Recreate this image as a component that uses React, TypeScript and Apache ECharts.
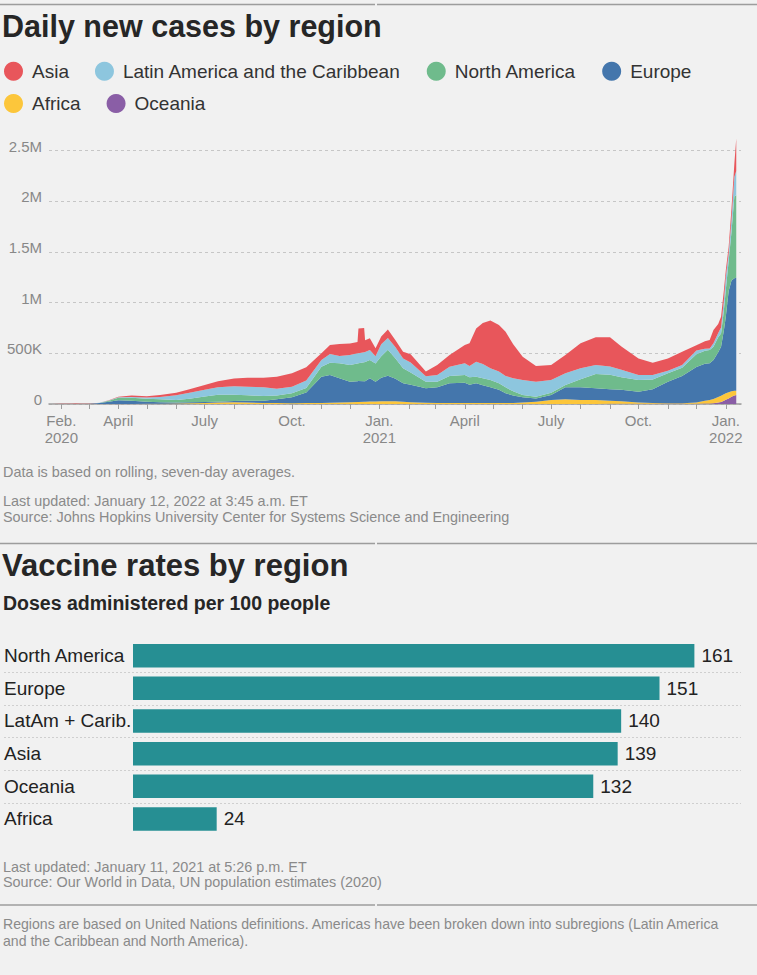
import React, { useEffect, useRef } from 'react';
import * as echarts from 'echarts';

// ---------- Daily new cases (7-day averages, thousands) ----------
const dates = [
  '2020-01-22', '2020-02-01', '2020-02-12', '2020-02-16', '2020-02-22', '2020-03-01', '2020-03-12', '2020-03-22',
  '2020-04-01', '2020-04-15', '2020-05-01', '2020-05-15', '2020-06-01', '2020-06-15', '2020-07-01', '2020-07-15',
  '2020-08-01', '2020-08-15', '2020-09-01', '2020-09-15', '2020-10-01', '2020-10-16', '2020-11-01', '2020-11-10',
  '2020-11-20', '2020-12-01', '2020-12-09', '2020-12-10', '2020-12-16', '2020-12-17', '2020-12-22', '2020-12-28',
  '2021-01-03', '2021-01-10', '2021-01-18', '2021-01-26', '2021-02-03', '2021-02-19', '2021-03-03', '2021-03-16',
  '2021-04-01', '2021-04-06', '2021-04-13', '2021-04-20', '2021-04-28', '2021-05-07', '2021-05-14', '2021-05-22',
  '2021-06-01', '2021-06-15', '2021-07-01', '2021-07-16', '2021-08-01', '2021-08-17', '2021-09-01', '2021-09-13',
  '2021-10-01', '2021-10-16', '2021-11-01', '2021-11-16', '2021-12-01', '2021-12-10', '2021-12-15', '2021-12-19',
  '2021-12-24', '2021-12-27', '2021-12-30', '2022-01-01', '2022-01-04', '2022-01-07', '2022-01-10', '2022-01-12',
];
const oceania = [
  0, 0, 0, 0, 0, 0, 0.05, 0.3,
  0.3, 0.1, 0, 0, 0, 0, 0.1, 0.3,
  0.5, 0.3, 0.1, 0.1, 0.1, 0.1, 0.1, 0.1,
  0.1, 0.1, 0.1, 0.1, 0.1, 0.1, 0.1, 0.1,
  0.1, 0.1, 0.1, 0.1, 0.1, 0.1, 0.1, 0.1,
  0.1, 0.1, 0.1, 0.1, 0.1, 0.1, 0.1, 0.1,
  0.1, 0.1, 0.2, 0.2, 0.5, 1, 1.5, 2,
  2, 2, 2, 2, 2, 4, 5, 8,
  14, 20, 32, 42, 55, 72, 85, 89,
];
const africa = [
  0, 0, 0, 0, 0, 0, 0.05, 0.5,
  0.5, 1, 2, 3, 5, 7, 10, 14,
  16, 15, 10, 9, 8, 9, 10, 12,
  14, 16, 20, 20, 22, 22, 24, 24,
  27, 28, 26, 22, 16, 12, 10, 9,
  9, 9, 9, 9, 9, 9, 10, 11,
  14, 23, 40, 46, 40, 38, 30, 25,
  13, 8, 6, 6, 13, 28, 35, 42,
  56, 62, 63, 63, 60, 53, 45, 43,
];
const europe = [
  0, 0, 0, 0, 0.1, 0.5, 10, 22,
  35, 30, 20, 15, 10, 10, 10, 9,
  14, 18, 23, 37, 58, 105, 260, 274,
  239, 204, 205, 206, 203, 203, 229, 196,
  233, 251, 224, 182, 174, 143, 154, 195,
  201, 181, 195, 176, 155, 131, 95, 74,
  52, 30, 49, 118, 124, 117, 115, 113,
  107, 135, 212, 268, 350, 365, 361, 384,
  440, 484, 635, 757, 1000, 1095, 1110, 1113,
];
const northAmerica = [
  0, 0, 0, 0, 0, 0.05, 1, 10,
  27, 31, 31, 28, 25, 35, 53, 69,
  62, 52, 46, 39, 39, 45, 98, 122,
  148, 165, 175, 176, 187, 190, 181, 180,
  210, 257, 200, 148, 120, 65, 56, 72,
  76, 73, 65, 70, 73, 65, 59, 40,
  23, 19, 23, 23, 79, 140, 141, 125,
  115, 98, 83, 82, 125, 128, 131, 132,
  150, 130, 197, 263, 300, 480, 810, 815,
];
const latinAmerica = [
  0, 0, 0, 0, 0, 0, 0.2, 1,
  3, 6, 10, 24, 46, 60, 67, 73,
  83, 85, 85, 66, 66, 72, 66, 85,
  72, 98, 100, 100, 98, 97, 98, 70,
  120, 115, 110, 98, 100, 55, 66, 92,
  115, 112, 148, 140, 115, 115, 112, 130,
  148, 148, 125, 116, 109, 90, 82, 72,
  49, 43, 26, 27, 38, 20, 17, 33,
  40, 60, 99, 131, 70, 120, 190, 240,
];
const asia = [
  0.5, 2, 3, 5, 1.5, 1.8, 2, 3,
  6.5, 17, 13, 18, 26, 33, 47, 60,
  75, 88, 96, 119, 132, 131, 66, 89,
  119, 115, 112, 243, 240, 116, 116, 80,
  75, 85, 70, 66, 80, 45, 99, 115,
  181, 225, 329, 405, 473, 460, 437, 335,
  230, 155, 148, 180, 246, 272, 289, 230,
  164, 122, 121, 131, 52, 75, 82, 131,
  90, 106, 99, 64, 65, 110, 130, 320,
];

const yTicks = [0, 500, 1000, 1500, 2000, 2500];
const yTickLabels = ['0', '500K', '1M', '1.5M', '2M', '2.5M'];
const monthTicks = [
  '2020-02-01', '2020-03-01', '2020-04-01', '2020-05-01', '2020-06-01', '2020-07-01', '2020-08-01', '2020-09-01',
  '2020-10-01', '2020-11-01', '2020-12-01', '2021-01-01', '2021-02-01', '2021-03-01', '2021-04-01', '2021-05-01',
  '2021-06-01', '2021-07-01', '2021-08-01', '2021-09-01', '2021-10-01', '2021-11-01', '2021-12-01', '2022-01-01',
];
const xLabelDates = ['2020-02-01', '2020-04-01', '2020-07-01', '2020-10-01', '2021-01-01', '2021-04-01', '2021-07-01', '2021-10-01', '2022-01-01'];
const xLabels = ['Feb.\n2020', 'April', 'July', 'Oct.', 'Jan.\n2021', 'April', 'July', 'Oct.', 'Jan.\n2022'];

// ---------- Vaccines ----------
const vaccineRegions = ['North America', 'Europe', 'LatAm + Carib.', 'Asia', 'Oceania', 'Africa'];
const vaccineDoses = [161, 151, 140, 139, 132, 24];

const FONT = "'Liberation Sans', Arial, Helvetica, sans-serif";
const toTs = (s: string) => {
  const [y, m, d] = s.split('-').map(Number);
  return Date.UTC(y, m - 1, d);
};

const seriesDefs = [
  { name: 'Oceania', values: oceania, color: '#8a5ea6' },
  { name: 'Africa', values: africa, color: '#fcc63b' },
  { name: 'Europe', values: europe, color: '#4476ac' },
  { name: 'North America', values: northAmerica, color: '#6fbb8c' },
  { name: 'Latin America and the Caribbean', values: latinAmerica, color: '#8dc6de' },
  { name: 'Asia', values: asia, color: '#e8565b' },
];

const text = (id: string, x: number, y: number, t: string, size: number, color: string, weight: any = 'normal') => ({
  type: 'text', id, x, y, silent: true,
  style: { text: t, fill: color, fontSize: size, fontWeight: weight, fontFamily: FONT, verticalAlign: 'middle', align: 'left' },
});
const rule = (id: string, x1: number, x2: number, y: number) => ({
  type: 'line', id, silent: true,
  shape: { x1, y1: y, x2, y2: y },
  style: { stroke: '#9d9d9d', lineWidth: 1.5 },
});

export default function App() {
  const ref = useRef<HTMLDivElement>(null);
  useEffect(() => {
    if (!ref.current) return;
    const chart = echarts.init(ref.current, undefined, { renderer: 'svg' });
    const labelTs = xLabelDates.map(toTs);
    const NOTE = 14.4;

    const baseGraphics: any[] = [
      rule('r1a', 0, 375, 4.5), rule('r1b', 377, 757, 4.5),
      text('title1', 2, 25.5, 'Daily new cases by region', 30.5, '#262626', 'bold'),
      text('note1', 3, 472, 'Data is based on rolling, seven-day averages.', NOTE, '#8a8a8a'),
      text('upd1', 3, 500.7, 'Last updated: January 12, 2022 at 3:45 a.m. ET', NOTE, '#8a8a8a'),
      text('src1', 3, 516.7, 'Source: Johns Hopkins University Center for Systems Science and Engineering', NOTE, '#8a8a8a'),
      rule('r2a', 0, 375, 543.5), rule('r2b', 377, 757, 543.5),
      text('title2', 2, 565.5, 'Vaccine rates by region', 31, '#262626', 'bold'),
      text('sub2', 3, 603, 'Doses administered per 100 people', 19.5, '#262626', 600),
      text('upd2', 3, 866.7, 'Last updated: January 11, 2021 at 5:26 p.m. ET', NOTE, '#8a8a8a'),
      text('src2', 3, 882.3, 'Source: Our World in Data, UN population estimates (2020)', NOTE, '#8a8a8a'),
      rule('r3a', 0, 375, 905), rule('r3b', 377, 757, 905),
      text('foot1', 3, 924.3, 'Regions are based on United Nations definitions. Americas have been broken down into subregions (Latin America', 14.1, '#8a8a8a'),
      text('foot2', 3, 940.7, 'and the Caribbean and North America).', 14.1, '#8a8a8a'),
    ];

    const legendBase = {
      icon: 'circle', itemWidth: 19, itemHeight: 19, itemGap: 26, padding: 0, left: 4,
      selectedMode: false,
      textStyle: { fontSize: 19, color: '#333', fontFamily: FONT, padding: [0, 0, 0, 4] },
    };

    const option: any = {
      animation: false,
      backgroundColor: '#f1f1f1',
      textStyle: { fontFamily: FONT },
      legend: [
        { ...legendBase, top: 61.7, data: ['Asia', 'Latin America and the Caribbean', 'North America', 'Europe'] },
        { ...legendBase, top: 94, data: ['Africa', 'Oceania'] },
      ],
      grid: [
        { left: 49, right: 16, top: 150.7, height: 253.3 },
        { left: 133, top: 639.3, height: 196, width: 610.2 },
      ],
      xAxis: [
        {
          type: 'value', gridIndex: 0,
          min: toTs('2020-01-19'), max: toTs('2022-01-17'),
          splitLine: { show: false },
          axisLine: { show: true, lineStyle: { color: '#9d9d9d', width: 1.5 } },
          axisTick: { show: true, length: 5, lineStyle: { color: '#9d9d9d', width: 1 }, customValues: monthTicks.map(toTs) },
          axisLabel: {
            customValues: labelTs,
            fontSize: 15, color: '#888', fontFamily: FONT, margin: 8, lineHeight: 17,
            hideOverlap: false,
            formatter: (v: number) => {
              const i = labelTs.findIndex((t) => Math.abs(t - v) < 3600000 * 12);
              return i >= 0 ? xLabels[i] : '';
            },
          },
        },
        { type: 'value', gridIndex: 1, min: 0, max: 175, show: false },
      ],
      yAxis: [
        {
          type: 'value', gridIndex: 0, min: 0, max: 2500, interval: 500,
          axisLine: { show: false }, axisTick: { show: false },
          splitLine: { show: true, lineStyle: { color: '#c6c6c6', type: [3, 3], width: 1 } },
          axisLabel: {
            fontSize: 15, color: '#888', fontFamily: FONT, margin: 7,
            verticalAlign: 'bottom', lineHeight: 9,
            formatter: (v: number) => {
              const i = yTicks.indexOf(v);
              return i >= 0 ? yTickLabels[i] : '';
            },
          },
        },
        {
          type: 'category', gridIndex: 1, data: vaccineRegions, inverse: true,
          axisLine: { show: false }, axisTick: { show: false }, splitLine: { show: false },
          axisLabel: { align: 'left', margin: 129, fontSize: 19, color: '#222', fontFamily: FONT },
        },
      ],
      series: [
        ...seriesDefs.map((s) => ({
          name: s.name, type: 'line', stack: 'cases', xAxisIndex: 0, yAxisIndex: 0,
          // value first so that the stack applies to the cases dimension
          data: dates.map((d, i) => [s.values[i], toTs(d)]),
          encode: { x: 1, y: 0 },
          symbol: 'none', showSymbol: false, clip: false, smooth: false,
          color: s.color,
          lineStyle: { width: 0, color: s.color },
          areaStyle: { color: s.color, opacity: 1 },
          silent: true,
        })),
        {
          name: 'Doses', type: 'bar', xAxisIndex: 1, yAxisIndex: 1,
          data: vaccineDoses, barWidth: 23.5,
          itemStyle: { color: '#268f93' },
          label: { show: true, position: 'right', distance: 7, fontSize: 19, color: '#222', fontFamily: FONT },
          silent: true,
        },
      ],
      graphic: { elements: baseGraphics },
    };
    chart.setOption(option);

    const seps: any[] = [];
    for (let i = 0; i < vaccineRegions.length - 1; i++) {
      const a = chart.convertToPixel({ yAxisIndex: 1 } as any, vaccineRegions[i]) as unknown as number;
      const b = chart.convertToPixel({ yAxisIndex: 1 } as any, vaccineRegions[i + 1]) as unknown as number;
      const y = Math.round((a + b) / 2) + 0.5;
      seps.push({
        type: 'line', id: 'sep' + i, silent: true,
        shape: { x1: 4, y1: y, x2: 741, y2: y },
        style: { stroke: '#cfcfcf', lineWidth: 1, lineDash: [2, 2] },
      });
    }
    chart.setOption({ graphic: { elements: [...baseGraphics, ...seps] } });

    return () => chart.dispose();
  }, []);
  return <div ref={ref} style={{ position: 'absolute', left: 0, top: 0, width: 757, height: 975 }} />;
}
